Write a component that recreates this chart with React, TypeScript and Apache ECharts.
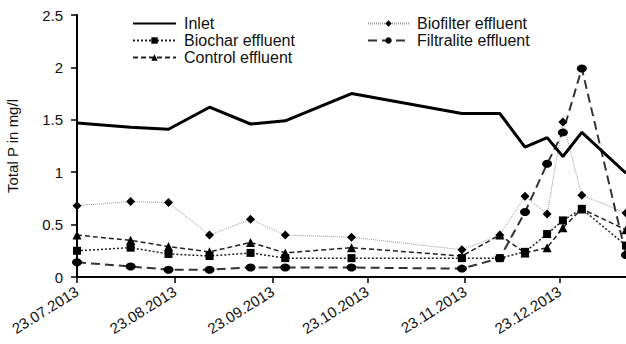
import React, { useEffect, useRef } from "react";
import * as echarts from "echarts";

const dates = [
  "2013-07-23", "2013-08-09", "2013-08-21", "2013-09-03", "2013-09-16", "2013-09-27", "2013-10-18",
  "2013-11-22", "2013-12-04", "2013-12-12", "2013-12-19", "2013-12-24", "2013-12-30", "2014-01-13",
];
const tickDates = ["2013-07-23", "2013-08-23", "2013-09-23", "2013-10-23", "2013-11-23", "2013-12-23"];

const inlet = [1.47, 1.43, 1.41, 1.62, 1.46, 1.49, 1.75, 1.56, 1.56, 1.24, 1.33, 1.15, 1.38, 0.99];
const biofilter = [0.68, 0.72, 0.71, 0.40, 0.55, 0.40, 0.38, 0.26, 0.40, 0.77, 0.60, 1.48, 0.78, 0.61];
const control = [0.40, 0.35, 0.29, 0.24, 0.33, 0.23, 0.28, 0.20, 0.40, 0.23, 0.28, 0.47, 0.65, 0.45];
const biochar = [0.25, 0.28, 0.22, 0.20, 0.23, 0.18, 0.18, 0.18, 0.18, 0.24, 0.41, 0.54, 0.65, 0.30];
const filtralite = [0.14, 0.10, 0.07, 0.07, 0.09, 0.09, 0.09, 0.08, 0.18, 0.62, 1.08, 1.38, 1.99, 0.21];

const DAY = 86400000;
const utc = (s: string) => {
  const [y, m, d] = s.split("-").map(Number);
  return Date.UTC(y, m - 1, d);
};
const origin = utc(dates[0]);
const toDay = (s: string) => Math.round((utc(s) - origin) / DAY);
const pad = (n: number) => (n < 10 ? "0" + n : "" + n);
const fmt = (day: number) => {
  const d = new Date(origin + Math.round(day) * DAY);
  return pad(d.getUTCDate()) + "." + pad(d.getUTCMonth() + 1) + "." + d.getUTCFullYear();
};

const FONT = "Liberation Sans, Arial, Helvetica, sans-serif";

export default function App() {
  const ref = useRef<HTMLDivElement>(null);
  useEffect(() => {
    if (!ref.current) return;
    const chart = echarts.init(ref.current, null, { renderer: "svg" });
    const pts = (vals: number[]) => dates.map((d, i) => [toDay(d), vals[i]]);
    const ticks = tickDates.map(toDay);
    const legendText = { fontFamily: FONT, fontSize: 16, color: "#111", lineHeight: 17, padding: [0, 0, 0, 3] };
    chart.setOption({
      animation: false,
      textStyle: { fontFamily: FONT, color: "#111" },
      grid: { left: 77, right: 0, top: 15, bottom: 67, containLabel: false, outerBoundsMode: "none" },
      legend: [
        {
          left: 132,
          top: 15,
          padding: 0,
          orient: "vertical",
          itemWidth: 43,
          itemHeight: 8,
          itemGap: 0,
          data: [
            { name: "Inlet", itemStyle: { opacity: 0 } },
            "Biochar effluent",
            "Control effluent",
          ],
          textStyle: legendText,
        },
        {
          left: 367,
          top: 15,
          padding: 0,
          orient: "vertical",
          itemWidth: 41,
          itemHeight: 8,
          itemGap: 0,
          data: ["Biofilter effluent", "Filtralite effluent"],
          textStyle: legendText,
        },
      ],
      xAxis: {
        type: "value",
        min: 0,
        max: toDay(dates[dates.length - 1]),
        splitLine: { show: false },
        axisLine: { lineStyle: { color: "#000", width: 2 } },
        axisTick: { show: true, length: 6, customValues: ticks, lineStyle: { color: "#000", width: 1.5 } },
        axisLabel: {
          customValues: ticks,
          rotate: 32,
          fontSize: 15,
          fontFamily: FONT,
          color: "#111",
          margin: 13,
          formatter: (v: number) => fmt(v),
        },
      },
      yAxis: {
        type: "value",
        min: 0,
        max: 2.5,
        interval: 0.5,
        name: "Total P in mg/l",
        nameLocation: "middle",
        nameGap: 57,
        nameTextStyle: { fontSize: 15, fontFamily: FONT, color: "#111" },
        splitLine: { show: false },
        axisLine: { show: true, lineStyle: { color: "#000", width: 2 } },
        axisTick: { show: true, length: 6, lineStyle: { color: "#000", width: 1.5 } },
        axisLabel: { fontSize: 15, fontFamily: FONT, color: "#111", margin: 14 },
      },
      series: [
        {
          name: "Biofilter effluent",
          type: "line",
          data: pts(biofilter),
          symbol: "diamond",
          symbolSize: 9,
          itemStyle: { color: "#000" },
          lineStyle: { color: "#999", width: 1, type: [1, 1] },
        },
        {
          name: "Biochar effluent",
          type: "line",
          data: pts(biochar),
          symbol: "rect",
          symbolSize: 8,
          itemStyle: { color: "#000" },
          lineStyle: { color: "#222", width: 1.5, type: [2, 2] },
        },
        {
          name: "Control effluent",
          type: "line",
          data: pts(control),
          symbol: "triangle",
          symbolSize: 9,
          itemStyle: { color: "#000" },
          lineStyle: { color: "#222", width: 1.5, type: [5, 3] },
        },
        {
          name: "Filtralite effluent",
          type: "line",
          data: pts(filtralite),
          symbol: "circle",
          symbolSize: [10, 8],
          itemStyle: { color: "#000" },
          lineStyle: { color: "#333", width: 2, type: [9, 5] },
        },
        {
          name: "Inlet",
          type: "line",
          data: pts(inlet),
          symbol: "none",
          itemStyle: { color: "#000" },
          lineStyle: { color: "#000", width: 3 },
        },
      ],
    });
    return () => chart.dispose();
  }, []);
  return <div ref={ref} style={{ width: 626, height: 344, position: "absolute", left: 0, top: 0 }} />;
}
